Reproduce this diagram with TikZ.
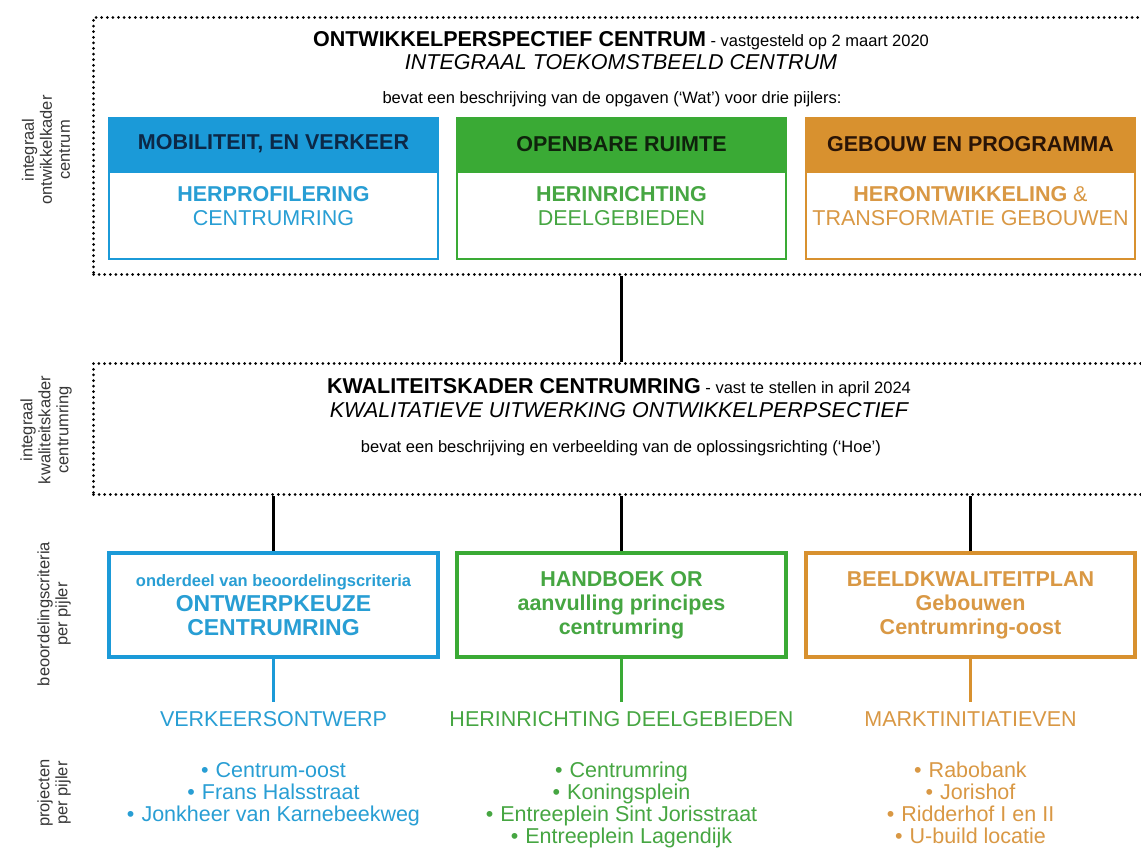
\documentclass[tikz,border=0pt]{standalone}
\usepackage{fontspec}
\setmainfont{Liberation Sans}
\usetikzlibrary{positioning}

\definecolor{pilblue}{RGB}{27,154,216}
\definecolor{pilgreen}{RGB}{58,170,53}
\definecolor{pilorange}{RGB}{216,145,47}
\definecolor{txtblue}{RGB}{40,158,212}
\definecolor{txtgreen}{RGB}{70,166,66}
\definecolor{txtorange}{RGB}{217,152,68}
\definecolor{hdrblue}{RGB}{12,40,70}
\definecolor{hdrgreen}{RGB}{15,35,12}
\definecolor{hdrorange}{RGB}{42,20,6}
\definecolor{sidegray}{RGB}{55,55,55}

\newcommand{\fsBig}{\fontsize{21.5}{24}\selectfont}
\newcommand{\fsSmall}{\fontsize{16.5}{19}\selectfont}
\newcommand{\fsSide}{\fontsize{16.5}{18}\selectfont}
\newcommand{\blt}{•\hspace{7pt}}

\begin{document}
\begin{tikzpicture}[x=1pt, y=-1pt,
    frame/.style = {draw, line width=3pt, dash pattern=on 0pt off 5.6pt, line cap=round,
                    anchor=north west, minimum width=1060pt},
    conn/.style = {line width=3pt},
    hdr/.style = {draw=#1, fill=#1, line width=2pt, minimum width=329pt,
                  minimum height=52pt, font=\fsBig\bfseries},
    body/.style = {draw=#1, line width=2pt, minimum width=329pt, minimum height=87pt},
    boxtxt/.style = {align=center, inner sep=0pt, font=\fsBig},
    crit/.style = {draw=#1, line width=4pt, minimum width=329pt, minimum height=104pt,
                   align=center, font=\fsBig\bfseries},
    ttl/.style = {inner sep=0pt, font=\fsBig},
    proj/.style = {inner sep=0pt, font=\fsBig},
    lijst/.style = {inner sep=0pt, align=center, font=\fontsize{21.5}{22}\selectfont},
    side/.style = {rotate=90, align=center, inner sep=0pt, font=\fsSide, text=sidegray}]

    \useasboundingbox (0,0) rectangle (1141,848);
    \fill[white] (0,0) rectangle (1141,848);

    % kaders
    \node[frame, minimum height=257pt] (ontw) at (92,16) {};
    \node[frame, minimum height=131pt] (kwal) at (92,362) {};

    \node[ttl, anchor=base] (ontwtitel) at (621,47) {\textbf{ONTWIKKELPERSPECTIEF CENTRUM}{\fsSmall\ - vastgesteld op 2 maart 2020}};
    \node[ttl, anchor=base] (ontwsub) at (621,70) {\itshape INTEGRAAL TOEKOMSTBEELD CENTRUM};
    \node[ttl, anchor=base, font=\fsSmall] (ontwtxt) at (612,104) {bevat een beschrijving van de opgaven (‘Wat’) voor drie pijlers:};

    \node[ttl, anchor=base] (kwaltitel) at (619,393) {\textbf{KWALITEITSKADER CENTRUMRING}{\fsSmall\ - vast te stellen in april 2024}};
    \node[ttl, anchor=base] (kwalsub) at (619,417) {\itshape KWALITATIEVE UITWERKING ONTWIKKELPERPSECTIEF};
    \node[ttl, anchor=base, font=\fsSmall] (kwaltxt) at (621,452) {bevat een beschrijving en verbeelding van de oplossingsrichting (‘Hoe’)};

    % pijlers
    \node[hdr=pilblue, text=hdrblue] (mob) at (273.5,144) {MOBILITEIT, EN VERKEER};
    \node[body=pilblue, below=0pt of mob] (mobvak) {};
    \node[boxtxt, text=txtblue] (mobtxt) at (273.5,206.5) {\textbf{HERPROFILERING}\\CENTRUMRING};

    \node[hdr=pilgreen, text=hdrgreen] (opr) at (621.5,144) {OPENBARE RUIMTE};
    \node[body=pilgreen, below=0pt of opr] (oprvak) {};
    \node[boxtxt, text=txtgreen] (oprtxt) at (621.5,206.5) {\textbf{HERINRICHTING}\\DEELGEBIEDEN};

    \node[hdr=pilorange, text=hdrorange] (geb) at (970.5,144) {GEBOUW EN PROGRAMMA};
    \node[body=pilorange, below=0pt of geb] (gebvak) {};
    \node[boxtxt, text=txtorange] (gebtxt) at (970.5,206.5) {\textbf{HERONTWIKKELING} \&\\TRANSFORMATIE GEBOUWEN};

    \draw[conn] (ontw.south -| oprvak) -- (kwal.north -| oprvak);

    % beoordelingscriteria
    \node[crit=pilblue, text=txtblue] (ontwerp) at (273.5,605) {{\fsSmall onderdeel van beoordelingscriteria}\\[1pt]{\fontsize{23}{25}\selectfont ONTWERPKEUZE}\\{\fontsize{23}{25}\selectfont CENTRUMRING}};
    \node[crit=pilgreen, text=txtgreen] (handboek) at (621.5,605) {HANDBOEK OR\\aanvulling principes\\centrumring};
    \node[crit=pilorange, text=txtorange] (bkp) at (970.5,605) {BEELDKWALITEITPLAN\\Gebouwen\\Centrumring-oost};

    \draw[conn] (kwal.south -| ontwerp) -- (ontwerp.north);
    \draw[conn] (kwal.south -| handboek) -- (handboek.north);
    \draw[conn] (kwal.south -| bkp) -- (bkp.north);

    % projecten
    \node[proj, text=txtblue] (verkeer) at (273.5,719) {VERKEERSONTWERP};
    \node[proj, text=txtgreen] (herinr) at (621.5,719) {HERINRICHTING DEELGEBIEDEN};
    \node[proj, text=txtorange] (markt) at (970.5,719) {MARKTINITIATIEVEN};

    \draw[conn, pilblue, shorten >=9pt] (ontwerp.south) -- (verkeer.north);
    \draw[conn, pilgreen, shorten >=9pt] (handboek.south) -- (herinr.north);
    \draw[conn, pilorange, shorten >=9pt] (bkp.south) -- (markt.north);

    \node[lijst, text=txtblue, anchor=north] (verklijst) at (273.5,762) {\blt Centrum-oost\\\blt Frans Halsstraat\\\blt Jonkheer van Karnebeekweg};
    \node[lijst, text=txtgreen, anchor=north] (herlijst) at (621.5,762) {\blt Centrumring\\\blt Koningsplein\\\blt Entreeplein Sint Jorisstraat\\\blt Entreeplein Lagendijk};
    \node[lijst, text=txtorange, anchor=north] (marktlijst) at (970.5,762) {\blt Rabobank\\\blt Jorishof\\\blt Ridderhof I en II\\\blt U-build locatie};

    % zijlabels
    \node[side] (zij1) at (46,150) {integraal\\ontwikkelkader\\centrum};
    \node[side] (zij2) at (46,430) {integraal\\kwaliteitskader\\centrumring};
    \node[side] (zij3) at (54,614) {beoordelingscriteria\\per pijler};
    \node[side] (zij4) at (54,793) {projecten\\per pijler};
\end{tikzpicture}
\end{document}
